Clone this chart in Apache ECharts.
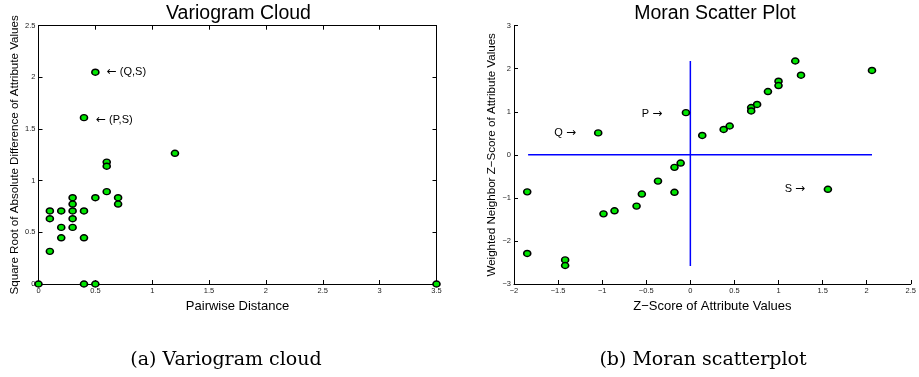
<!DOCTYPE HTML>
<html lang="en">
<head>
<meta charset="utf-8">
<title>Variogram Cloud / Moran Scatter Plot</title>
<style>
html, body {
  margin: 0;
  background: #ffffff;
}
#chart {
  width: 919px;
  height: 377px;
}
</style>
</head>
<body>
<div id="chart"></div>
<script src="https://cdn.jsdelivr.net/npm/echarts@6/dist/echarts.min.js"></script>
<script>
// variogram cloud: [pairwise distance, sqrt |diff|]
var cloudPoints = [
  [0, 0], [0.5, 2.05], [0.4, 1.61], [1.2, 1.265], [0.6, 1.18], [0.6, 1.14],
  [0.6, 0.894], [0.5, 0.835], [0.7, 0.835], [0.7, 0.774], [0.1, 0.707], [0.1, 0.632],
  [0.2, 0.707], [0.2, 0.548], [0.2, 0.447], [0.3, 0.835], [0.3, 0.774], [0.3, 0.707],
  [0.3, 0.632], [0.3, 0.548], [0.4, 0.707], [0.4, 0.447], [0.1, 0.316], [0.4, 0],
  [0.5, 0], [3.5, 0]
];
var cloudNotes = [
  [0.6, 2.05, '\u2190 (Q,S)'],
  [0.505, 1.59, '\u2190 (P,S)']
];
// moran scatter: [z-score, weighted neighbour z-score]
var moranPoints = [
  [-1.85, -0.86], [-1.85, -2.29], [-1.42, -2.44], [-1.42, -2.57], [-1.045, 0.51],
  [-0.985, -1.37], [-0.86, -1.30], [-0.61, -1.19], [-0.55, -0.91], [-0.367, -0.61],
  [-0.18, -0.29], [-0.11, -0.19], [-0.18, -0.87], [-0.05, 0.98], [0.135, 0.45],
  [0.378, 0.59], [0.446, 0.67], [0.69, 1.10], [0.69, 1.02], [0.757, 1.17],
  [0.88, 1.47], [1.0, 1.71], [1.0, 1.61], [1.19, 2.18], [1.255, 1.85],
  [2.06, 1.96], [1.56, -0.80]
];
var moranNotes = [
  [-1.543, 0.50, 'Q \u2192'],
  [-0.55, 0.96, 'P \u2192'],
  [1.07, -0.79, 'S \u2192']
];
var hLine = [[-1.84, 0], [2.06, 0]];
var vLine = [[0, 2.18], [0, -2.58]];

var sans = 'Liberation Sans, Arial, sans-serif';
var minus = function (v) { return String(v).replace('-', '\u2212'); };

function axisBase(min, max, interval, pos, showLabel) {
  return {
    type: 'value',
    min: min,
    max: max,
    interval: interval,
    position: pos,
    axisLine: { show: true, onZero: false, lineStyle: { color: '#000', width: 1 } },
    axisTick: { show: true, inside: true, length: 4, lineStyle: { color: '#000' } },
    splitLine: { show: false },
    axisLabel: {
      show: showLabel,
      fontFamily: sans,
      fontSize: 7.5,
      color: '#222',
      margin: 3,
      formatter: minus
    }
  };
}

function dots(xi, yi, data) {
  return {
    type: 'scatter',
    xAxisIndex: xi,
    yAxisIndex: yi,
    data: data,
    symbol: 'circle',
    symbolSize: [7, 6],
    itemStyle: { color: '#00e600', borderColor: '#000', borderWidth: 1.5, opacity: 1 },
    z: 5,
    animation: false
  };
}

// arrow in DejaVu (wider, like the TeX arrow), letters in the sans face
function notes(xi, yi, data) {
  return {
    type: 'scatter',
    xAxisIndex: xi,
    yAxisIndex: yi,
    data: data.map(function (d) { return { value: [d[0], d[1]], text: d[2] }; }),
    symbolSize: 0,
    silent: true,
    itemStyle: { opacity: 1 },
    label: {
      show: true,
      position: 'right',
      distance: 0,
      color: '#000',
      fontFamily: sans,
      fontSize: 11,
      formatter: function (p) {
        return p.data.text.replace(/([\u2190\u2192])/, '{arr|$1}');
      },
      rich: {
        arr: { fontFamily: 'DejaVu Sans', fontSize: 12, color: '#000' }
      }
    },
    animation: false
  };
}

function blueLine(data) {
  return {
    type: 'line',
    xAxisIndex: 2,
    yAxisIndex: 2,
    data: data,
    symbol: 'none',
    lineStyle: { color: '#0000ff', width: 1.5 },
    z: 2,
    animation: false
  };
}

var chart = echarts.init(document.getElementById('chart'));

var xLeft = axisBase(0, 3.5, 0.5, 'bottom', true);
xLeft.name = 'Pairwise Distance';
xLeft.nameLocation = 'middle';
xLeft.nameGap = 11;
xLeft.nameTextStyle = { fontFamily: sans, fontSize: 13, color: '#000', verticalAlign: 'top' };
var xLeftTop = axisBase(0, 3.5, 0.5, 'top', false);
xLeftTop.gridIndex = 0;

var yLeft = axisBase(0, 2.5, 0.5, 'left', true);
yLeft.name = 'Square Root of Absolute Difference of Attribute Values';
yLeft.nameLocation = 'middle';
yLeft.nameGap = 16;
yLeft.nameTextStyle = { fontFamily: sans, fontSize: 11.6, color: '#000' };
var yLeftRight = axisBase(0, 2.5, 0.5, 'right', false);
yLeftRight.gridIndex = 0;

var xRight = axisBase(-2, 2.5, 0.5, 'bottom', true);
xRight.gridIndex = 1;
xRight.name = 'Z\u2212Score of Attribute Values';
xRight.nameLocation = 'middle';
xRight.nameGap = 11;
xRight.nameTextStyle = { fontFamily: sans, fontSize: 13, color: '#000', verticalAlign: 'top' };

var yRight = axisBase(-3, 3, 1, 'left', true);
yRight.gridIndex = 1;
yRight.name = 'Weighted Neighbor Z\u2212Score of Attribute Values';
yRight.nameLocation = 'middle';
yRight.nameGap = 16;
yRight.nameTextStyle = { fontFamily: sans, fontSize: 11.6, color: '#000' };

chart.setOption({
  animation: false,
  grid: [
    { left: 38.5, top: 25.7, width: 398, height: 258.3 },
    { left: 514, top: 25.7, width: 400.7, height: 258.3 }
  ],
  xAxis: [xLeft, xLeftTop, xRight],
  yAxis: [yLeft, yLeftRight, yRight],
  graphic: [
    { type: 'text', x: 238.5, y: 13.5, style: { text: 'Variogram Cloud', font: '19.5px ' + sans, fill: '#000', align: 'center', verticalAlign: 'middle' } },
    { type: 'text', x: 715, y: 13.5, style: { text: 'Moran Scatter Plot', font: '19.5px ' + sans, fill: '#000', align: 'center', verticalAlign: 'middle' } },
    { type: 'text', x: 226, y: 360, style: { text: '(a) Variogram cloud', font: '19px "DejaVu Serif", serif', fill: '#000', align: 'center', verticalAlign: 'middle' } },
    { type: 'text', x: 703, y: 360, style: { text: '(b) Moran scatterplot', font: '19px "DejaVu Serif", serif', fill: '#000', align: 'center', verticalAlign: 'middle' } }
  ],
  series: [
    dots(0, 0, cloudPoints),
    notes(0, 0, cloudNotes),
    blueLine(hLine),
    blueLine(vLine),
    dots(2, 2, moranPoints),
    notes(2, 2, moranNotes)
  ]
});
</script>
</body>
</html>
